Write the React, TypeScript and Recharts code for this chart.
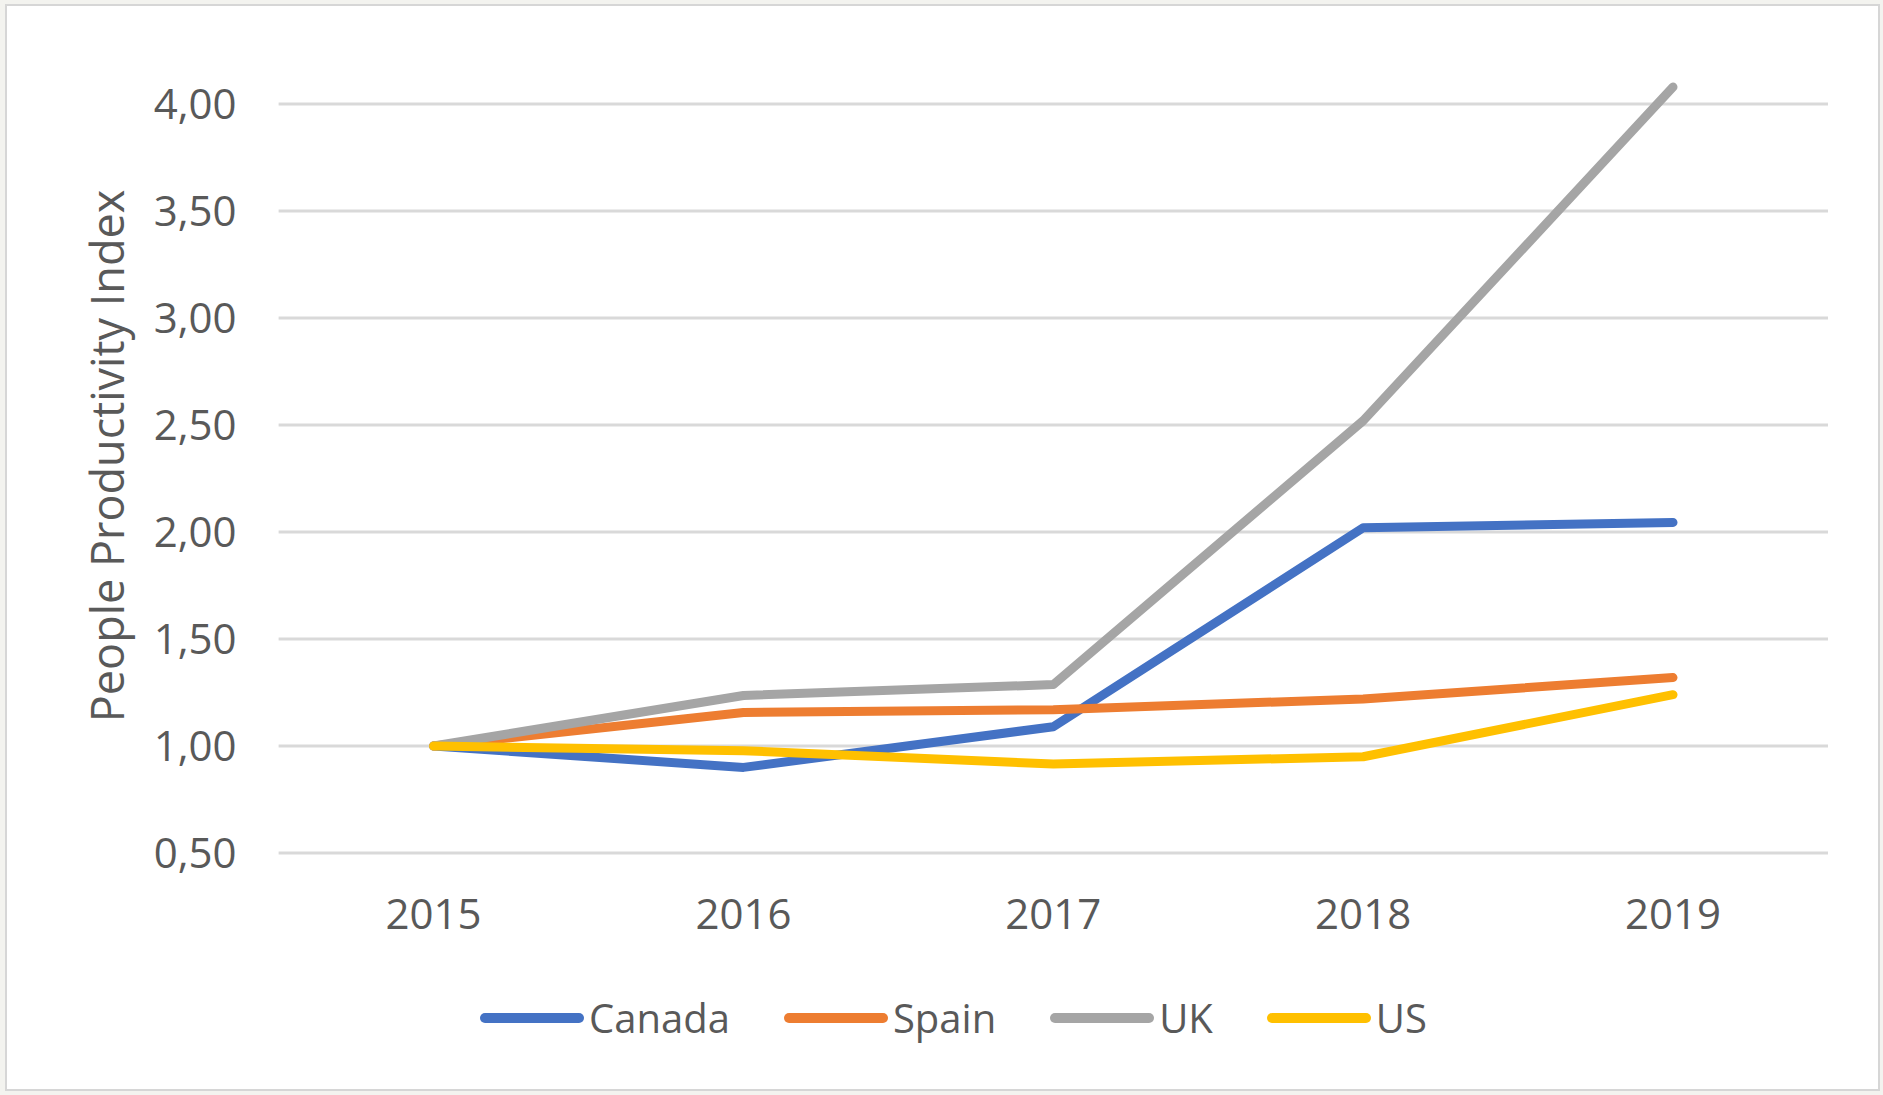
import { LineChart, Line, XAxis, YAxis, CartesianGrid, Label } from 'recharts';

const years = ['2015', '2016', '2017', '2018', '2019'];
const canada = [1.0, 0.9, 1.09, 2.02, 2.045];
const spain = [1.0, 1.157, 1.17, 1.22, 1.32];
const uk = [1.0, 1.236, 1.287, 2.52, 4.08];
const us = [1.0, 0.978, 0.916, 0.95, 1.24];
const yTicks = [0.5, 1, 1.5, 2, 2.5, 3, 3.5, 4];

const series = [
  { key: 'Canada', color: '#4472C4' },
  { key: 'Spain', color: '#ED7D31' },
  { key: 'UK', color: '#A5A5A5' },
  { key: 'US', color: '#FFC000' },
];

const data = years.map((year, i) => ({
  year,
  Canada: canada[i],
  Spain: spain[i],
  UK: uk[i],
  US: us[i],
}));

const FONT = '"Open Sans", sans-serif';
const TEXT = '#595959';

const YTitle = (props: any) => {
  const vb = props.viewBox;
  const x = vb.x + 66;
  const y = vb.y + vb.height / 2 - 14;
  return (
    <text
      x={x}
      y={y}
      transform={`rotate(-90 ${x} ${y})`}
      textAnchor="middle"
      dominantBaseline="central"
      fill={TEXT}
      fontSize={45}
      fontFamily={FONT}
    >
      People Productivity Index
    </text>
  );
};

export default function App() {
  return (
    <div style={{ position: 'absolute', left: 0, top: 0, width: 1883, height: 1095, background: '#f3f3ef', fontFamily: FONT }}>
      <div style={{ position: 'absolute', left: 5, top: 4, width: 1871, height: 1083, border: '2px solid #d6d6d6', background: '#fff' }} />
      <div style={{ position: 'absolute', left: 0, top: 0 }}>
        <LineChart width={1883} height={1095} data={data} margin={{ top: 87, right: 55, bottom: 142, left: 40 }}>
          <CartesianGrid vertical={false} horizontalValues={yTicks} stroke="#d9d9d9" strokeWidth={3} />
          <XAxis
            dataKey="year"
            axisLine={false}
            tickLine={false}
            tickSize={0}
            tickMargin={46}
            height={100}
            padding={{ left: 155, right: 155 }}
            tick={{ fontSize: 42, fill: TEXT, fontFamily: FONT }}
          />
          <YAxis
            domain={[0.5, 'dataMax']}
            ticks={yTicks}
            interval={0}
            axisLine={false}
            tickLine={false}
            tickSize={0}
            tickMargin={42}
            width={238.6}
            tickFormatter={(v: number) => v.toFixed(2).replace('.', ',')}
            tick={{ fontSize: 42, fill: TEXT, fontFamily: FONT }}
          >
            <Label content={YTitle} />
          </YAxis>
          {series.map((s) => (
            <Line
              key={s.key}
              dataKey={s.key}
              stroke={s.color}
              strokeWidth={9}
              strokeLinecap="round"
              strokeLinejoin="round"
              dot={false}
              activeDot={false}
              isAnimationActive={false}
            />
          ))}
        </LineChart>
      </div>
      <div style={{ position: 'absolute', left: 12, top: 990, width: 1883, height: 56, display: 'flex', justifyContent: 'center', alignItems: 'center', gap: 54 }}>
        {series.map((s) => (
          <div key={s.key} style={{ display: 'flex', alignItems: 'center' }}>
            <svg width={104} height={12} style={{ marginRight: 5 }}>
              <line x1={5} y1={6} x2={99} y2={6} stroke={s.color} strokeWidth={10} strokeLinecap="round" />
            </svg>
            <span style={{ fontSize: 40, color: TEXT, lineHeight: '56px' }}>{s.key}</span>
          </div>
        ))}
      </div>
    </div>
  );
}
